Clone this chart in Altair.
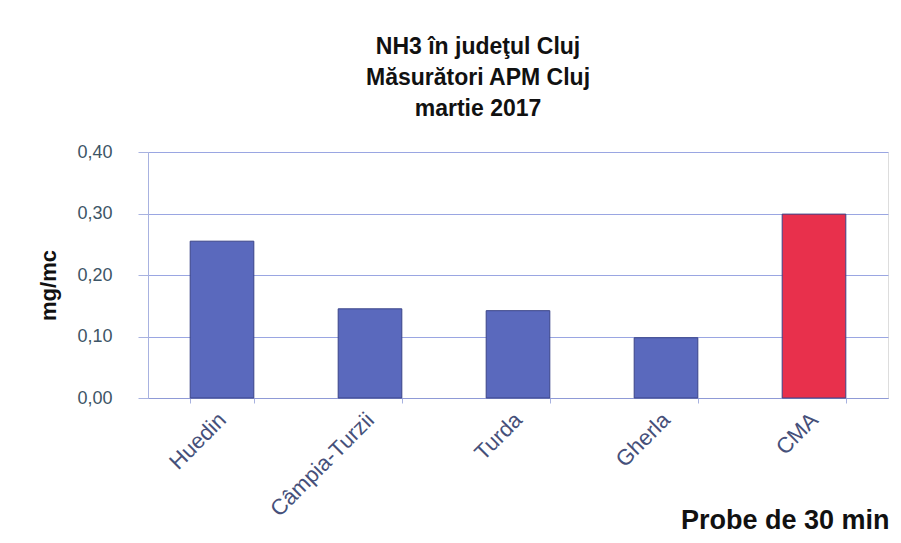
import altair as alt
import pandas as pd

categories = ["Huedin", "Câmpia-Turzii", "Turda", "Gherla", "CMA"]
values = [0.255, 0.145, 0.142, 0.098, 0.299]
bar_colors = ["#5a69bd", "#5a69bd", "#5a69bd", "#5a69bd", "#e8304c"]
title_lines = ["NH3 în judeţul Cluj", "Măsurători APM Cluj", "martie 2017"]
y_ticks = [0.0, 0.1, 0.2, 0.3, 0.4]

df = pd.DataFrame({"cat": categories, "val": values, "col": bar_colors})

bars = alt.Chart(df).mark_bar(stroke="#3a4488", strokeWidth=1).encode(
    x=alt.X(
        "cat:N",
        sort=categories,
        scale=alt.Scale(paddingInner=0.57, paddingOuter=0.285),
        axis=alt.Axis(
            title="Probe de 30 min",
            titleFont="Liberation Sans",
            titleFontSize=27,
            titleFontWeight="bold",
            titleColor="#111111",
            titleAnchor="end",
            titleAlign="right",
            titleX=741,
            titleY=130,
            titleBaseline="alphabetic",
            labelAngle=-45,
            labelAlign="right",
            labelBaseline="middle",
            labelFont="Liberation Sans",
            labelFontSize=22,
            labelColor="#46507a",
            labelPadding=13,
            tickBand="extent",
            tickColor="#a8b2e0",
            tickSize=5,
            domainColor="#8f9ad6",
            grid=False,
        ),
    ),
    y=alt.Y(
        "val:Q",
        scale=alt.Scale(domain=[0, 0.4]),
        axis=alt.Axis(
            title="mg/mc",
            titleFont="Liberation Sans",
            titleFontSize=22,
            titleFontWeight="bold",
            titleColor="#111111",
            titleAngle=-90,
            titleX=-100,
            titleY=133,
            titleAlign="center",
            titleBaseline="middle",
            values=y_ticks,
            labelExpr="replace(format(datum.value, '.2f'), '.', ',')",
            labelFont="Liberation Sans",
            labelFontSize=18,
            labelColor="#3d5566",
            labelPadding=26,
            tickColor="#a8b2e0",
            tickSize=10,
            domainColor="#a8b2e0",
            gridColor="#9aa6e2",
            gridWidth=1.2,
        ),
    ),
    color=alt.Color("col:N", scale=None, legend=None),
)

chart = bars.properties(
    width=740,
    height=246,
    autosize=alt.AutoSizeParams(type="none"),
    padding={"left": 140, "top": 144, "right": 5, "bottom": 140},
    title=alt.TitleParams(
        text=title_lines,
        font="Liberation Sans",
        fontSize=23,
        fontWeight="bold",
        color="#111111",
        anchor="middle",
        frame="group",
        dx=-40,
        offset=22,
        lineHeight=31,
    ),
).configure_view(stroke="#7080c8", strokeWidth=1.2).configure(background="white")

chart.save("out.html", embed_options={"renderer": "svg", "actions": False})
